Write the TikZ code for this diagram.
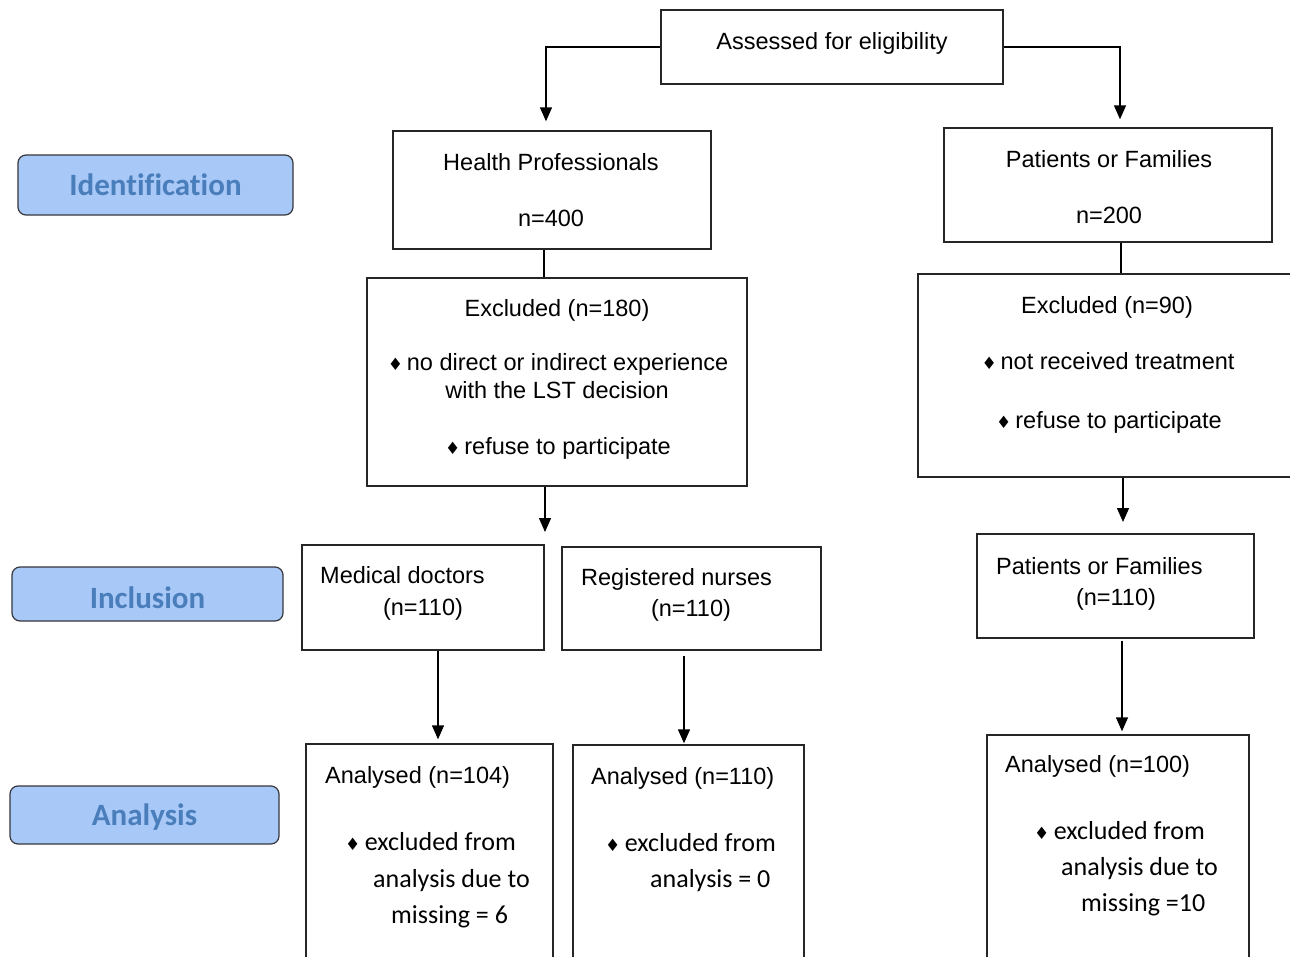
\documentclass[tikz,border=0pt]{standalone}
\usepackage{fontspec}
\setmainfont{Liberation Sans}
\newfontfamily\calib[Ligatures={NoCommon}]{Carlito}
\newfontfamily\symf{DejaVu Sans}
\usetikzlibrary{arrows.meta}
\definecolor{lblfill}{RGB}{168,200,248}
\definecolor{lbltext}{RGB}{74,126,187}
\definecolor{lbldraw}{RGB}{55,55,60}
\newcommand{\bul}{{\symf\fontsize{17bp}{17bp}\selectfont ♦}}
\tikzset{
  box/.style={draw=black!85, line width=1.4bp, inner sep=0, fill=white},
  tx/.style={inner sep=0, font=\fontsize{23.5bp}{28bp}\selectfont, text height=17.6bp, text depth=3.5bp},
  cx/.style={inner sep=0, font=\calib\fontsize{26bp}{30bp}\selectfont, text height=19.5bp, text depth=3.9bp},
  lbl/.style={draw=lbldraw, fill=lblfill, text=lbltext, line width=1.2bp, rounded corners=8bp, inner sep=0,
              font=\calib\bfseries\fontsize{31bp}{36bp}\selectfont},
  arr/.style={-{Triangle[length=14bp,width=12bp]}, line width=1.4bp},
  ln/.style={line width=1.4bp}
}
\begin{document}
\begin{tikzpicture}[x=1bp,y=-1bp]
\useasboundingbox (0,0) rectangle (1290,957);
\clip (0,0) rectangle (1290,957);
\fill[white] (0,0) rectangle (1290,957);

% side labels
\node[lbl, minimum width=275bp, minimum height=60bp] (lid) at (155.5,185) {Identification};
\node[lbl, minimum width=271bp, minimum height=54bp, text height=30bp] (linc) at (147.5,594) {Inclusion};
\node[lbl, minimum width=269bp, minimum height=58bp, text height=26bp] (lana) at (144.5,815) {Analysis};

% boxes
\node[box, minimum width=342bp, minimum height=74bp] (A) at (832,47) {};
\node[box, minimum width=318bp, minimum height=118bp] (HP) at (552,190) {};
\node[box, minimum width=328bp, minimum height=114bp] (PF) at (1108,185) {};
\node[box, minimum width=380bp, minimum height=208bp] (EH) at (557,382) {};
\node[box, minimum width=380bp, minimum height=203bp] (EP) at (1108,375.5) {};
\node[box, minimum width=242bp, minimum height=105bp] (MD) at (423,597.5) {};
\node[box, minimum width=259bp, minimum height=103bp] (RN) at (691.5,598.5) {};
\node[box, minimum width=277bp, minimum height=104bp] (PF2) at (1115.5,586) {};
\node[box, minimum width=247bp, minimum height=240bp] (AN1) at (429.5,864) {};
\node[box, minimum width=231bp, minimum height=240bp] (AN2) at (688.5,865) {};
\node[box, minimum width=262bp, minimum height=250bp] (AN3) at (1118,860) {};

% texts
\node[tx] (tA) at (832,42) {Assessed for eligibility};
\node[tx] (tHP1) at (551,163) {Health Professionals};
\node[tx] (tHP2) at (551,219) {n=400};
\node[tx] (tPF1) at (1109,160) {Patients or Families};
\node[tx] (tPF2) at (1109,216) {n=200};
\node[tx] (tEH1) at (557,309) {Excluded (n=180)};
\node[tx] (tEH2) at (558,363) {\bul\,no direct or indirect experience};
\node[tx] (tEH3) at (557,391) {with the LST decision};
\node[tx] (tEH4) at (558,447) {\bul\,refuse to participate};
\node[tx] (tEP1) at (1107,306) {Excluded (n=90)};
\node[tx] (tEP2) at (1108,362) {\bul\,not received treatment};
\node[tx] (tEP3) at (1109,421) {\bul\,refuse to participate};
\node[tx, anchor=west] (tMD1) at (320,576) {Medical doctors};
\node[tx] (tMD2) at (423,608) {(n=110)};
\node[tx, anchor=west] (tRN1) at (581,578) {Registered nurses};
\node[tx] (tRN2) at (691,609) {(n=110)};
\node[tx, anchor=west] (tPG1) at (996,567) {Patients or Families};
\node[tx] (tPG2) at (1116,598) {(n=110)};

\node[tx, anchor=west] (tA11) at (325,776) {Analysed (n=104)};
\node[cx, anchor=west] (tA12) at (345,843) {\bul\,excluded from};
\node[cx, anchor=west] (tA13) at (373,880) {analysis due to};
\node[cx, anchor=west] (tA14) at (391,916) {missing = 6};

\node[tx, anchor=west] (tA21) at (591,777) {Analysed (n=110)};
\node[cx, anchor=west] (tA22) at (605,844) {\bul\,excluded from};
\node[cx, anchor=west] (tA23) at (650,880) {analysis = 0};

\node[tx, anchor=west] (tA31) at (1005,765) {Analysed (n=100)};
\node[cx, anchor=west] (tA32) at (1034,832) {\bul\,excluded from};
\node[cx, anchor=west] (tA33) at (1061,868) {analysis due to};
\node[cx, anchor=west] (tA34) at (1081,904) {missing =10};

% connector coordinates
\coordinate (xL) at (546,0);
\coordinate (xR) at (1120,0);
\coordinate (cL) at (544,0);
\coordinate (cL2) at (545,0);
\coordinate (tipL) at (545,532);
\coordinate (cR) at (1121,0);
\coordinate (cR2) at (1123,0);
\coordinate (tipR) at (1123,522);
\coordinate (c1) at (438,0);
\coordinate (c2) at (684,0);
\coordinate (c3) at (1122,0);

\draw[arr] (A.west) -| ([yshift=9bp]xL |- HP.north);
\draw[arr] (A.east) -| ([yshift=8bp]xR |- PF.north);
\draw[ln] (cL |- HP.south) -- (cL |- EH.north);
\draw[arr] (cL2 |- EH.south) -- (tipL);
\draw[ln] (cR |- PF.south) -- (cR |- EP.north);
\draw[arr] (cR2 |- EP.south) -- (tipR);
\draw[arr] (c1 |- MD.south) -- ([yshift=4bp]c1 |- AN1.north);
\draw[arr] ([yshift=-5bp]c2 |- RN.south) -- ([yshift=1bp]c2 |- AN2.north);
\draw[arr] ([yshift=-2bp]c3 |- PF2.south) -- ([yshift=3bp]c3 |- AN3.north);
\end{tikzpicture}
\end{document}
